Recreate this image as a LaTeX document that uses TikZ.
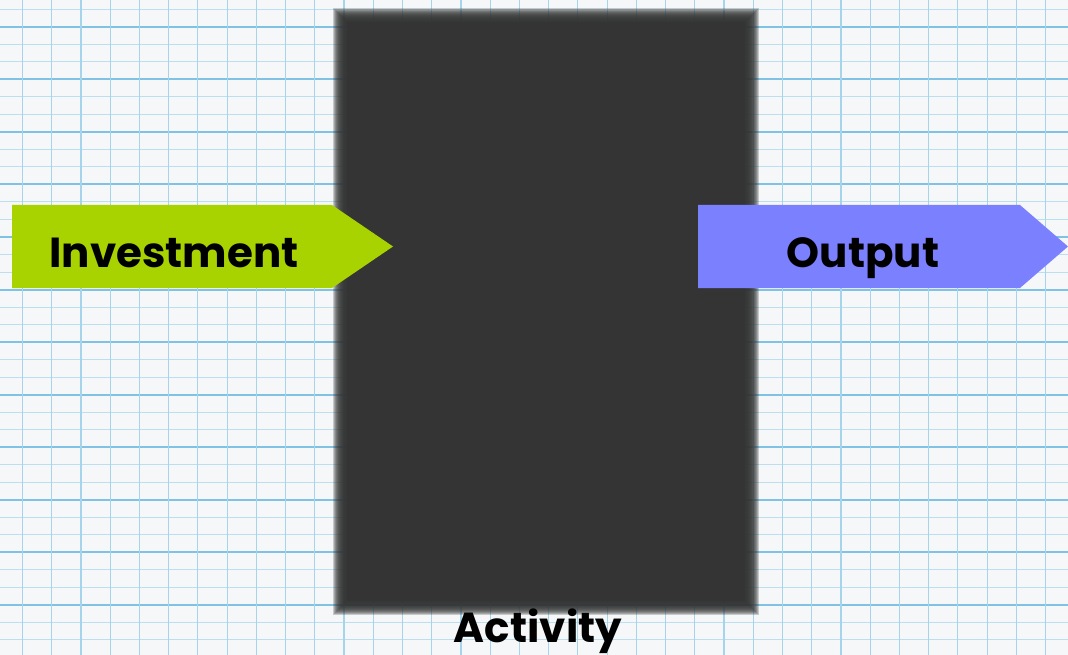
\documentclass[tikz,border=0pt]{standalone}
\usepackage{fontspec}
\setmainfont{Poppins}
\usetikzlibrary{positioning}
\definecolor{paper}{HTML}{F5F7F8}
\definecolor{gridthin}{HTML}{BCDFEF}
\definecolor{gridvert}{HTML}{A6D4EA}
\definecolor{gridthick}{HTML}{7FC2E4}
\definecolor{boxgray}{HTML}{343434}
\definecolor{investgreen}{HTML}{A9D300}
\definecolor{outputblue}{HTML}{7B80FF}
\tikzset{
  labeltext/.style={font=\bfseries\fontsize{42}{42}\selectfont, text=black, inner sep=0pt, anchor=base},
}
\begin{document}
\begin{tikzpicture}[x=1pt,y=-1pt]
  \useasboundingbox (0,0) rectangle (1068,655);
  % graph paper
  \fill[paper] (0,0) rectangle (1068,655);
  \foreach \y in {0,...,37}
    \draw[gridthin, line width=1pt] (0,9.5+17.5*\y) -- (1068,9.5+17.5*\y);
  \foreach \y in {0,...,12}
    \draw[gridthick, line width=2pt] (0,27+52.5*\y) -- (1068,27+52.5*\y);
  \foreach \x in {0,...,36}
    \draw[gridvert, line width=1.2pt] (22.5+29.23*\x,0) -- (22.5+29.23*\x,655);
  % soft edge of the box
  \foreach \d in {-7,...,7}
    \fill[boxgray, opacity=0.24] (340-\d,15-\d) rectangle (752+\d,608+\d);
  \node[fill=boxgray, minimum width=398pt, minimum height=579pt, inner sep=0pt] (box) at (546,311.5) {};
  \node[labeltext] (activity) at (538,642) {Activity};
  % arrows
  \fill[investgreen] (12,205) -- (332,205) -- (393,246.5) -- (332,288) -- (12,288) -- cycle;
  \node[labeltext] (invest) at (174,267) {Investment};
  \fill[outputblue] (698,205) -- (1020,205) -- (1068,246.5) -- (1020,288) -- (698,288) -- cycle;
  \node[labeltext] (output) at (863,267) {Output};
\end{tikzpicture}
\end{document}
